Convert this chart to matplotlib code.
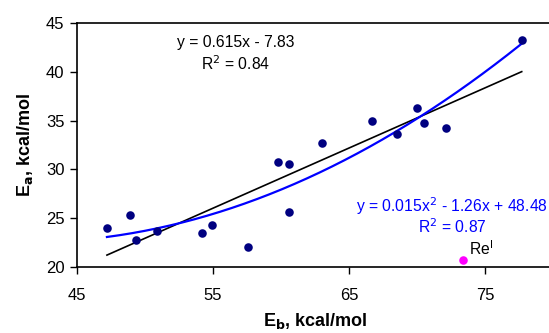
import numpy as np
import matplotlib
matplotlib.use("Agg")
import matplotlib.pyplot as plt

plt.rcParams['font.family'] = ['Liberation Sans', 'DejaVu Sans']

# Eb vs Ea data (kcal/mol)
eb = [47.2, 48.9, 49.3, 50.9, 54.2, 54.9, 57.6, 59.8, 60.6, 60.6,
      63.0, 66.7, 68.5, 70.0, 70.5, 72.1, 77.7]
ea = [24.0, 25.3, 22.8, 23.7, 23.5, 24.3, 22.1, 30.8, 30.6, 25.6,
      32.7, 35.0, 33.6, 36.3, 34.8, 34.2, 43.3]
re_eb, re_ea = [73.4], [20.7]

x = np.array(eb); y = np.array(ea)
lin = np.polyfit(x, y, 1)
quad = np.polyfit(x, y, 2)
xs = np.linspace(x.min(), x.max(), 200)

fig = plt.figure(figsize=(5.49, 3.33), dpi=100)
ax = fig.add_axes([0.1403, 0.198, 0.867, 0.733])

ax.plot(xs, np.polyval(lin, xs), color="black", lw=1.2, zorder=2)
ax.plot(xs, np.polyval(quad, xs), color="#0000ff", lw=1.6, zorder=3)
ax.scatter(eb, ea, s=38, color="#000080", zorder=4, linewidths=0)
ax.scatter(re_eb, re_ea, s=38, color="#ff00ff", zorder=4, linewidths=0, clip_on=False)

ax.set_xlim(45, 80)
ax.set_ylim(20, 45)
ax.set_xticks([45, 55, 65, 75])
ax.set_yticks([20, 25, 30, 35, 40, 45])
ax.tick_params(direction="out", length=5, width=1, labelsize=12, pad=4)
ax.tick_params(axis="x", pad=10)
for s in ax.spines.values():
    s.set_linewidth(1.2)

ax.set_ylabel("E$_\\mathbf{a}$, kcal/mol", fontsize=13, fontweight="bold", labelpad=8)
ax.set_xlabel("E$_\\mathbf{b}$, kcal/mol", fontsize=13, fontweight="bold", labelpad=6)

fs = 11.3
ax.text(0.333, 0.922, "y = 0.615x - 7.83", transform=ax.transAxes,
        ha="center", va="center", fontsize=fs)
ax.text(0.333, 0.835, "R$^2$ = 0.84", transform=ax.transAxes,
        ha="center", va="center", fontsize=fs)
ax.text(0.788, 0.25, "y = 0.015x$^2$ - 1.26x + 48.48", transform=ax.transAxes,
        ha="center", va="center", fontsize=fs, color="#0000ff")
ax.text(0.788, 0.165, "R$^2$ = 0.87", transform=ax.transAxes,
        ha="center", va="center", fontsize=fs, color="#0000ff")
ax.annotate("Re$^\\mathregular{I}$", (re_eb[0], re_ea[0]), xytext=(4, 4),
            textcoords="offset points", fontsize=fs)

fig.savefig("out.png", dpi=100)
